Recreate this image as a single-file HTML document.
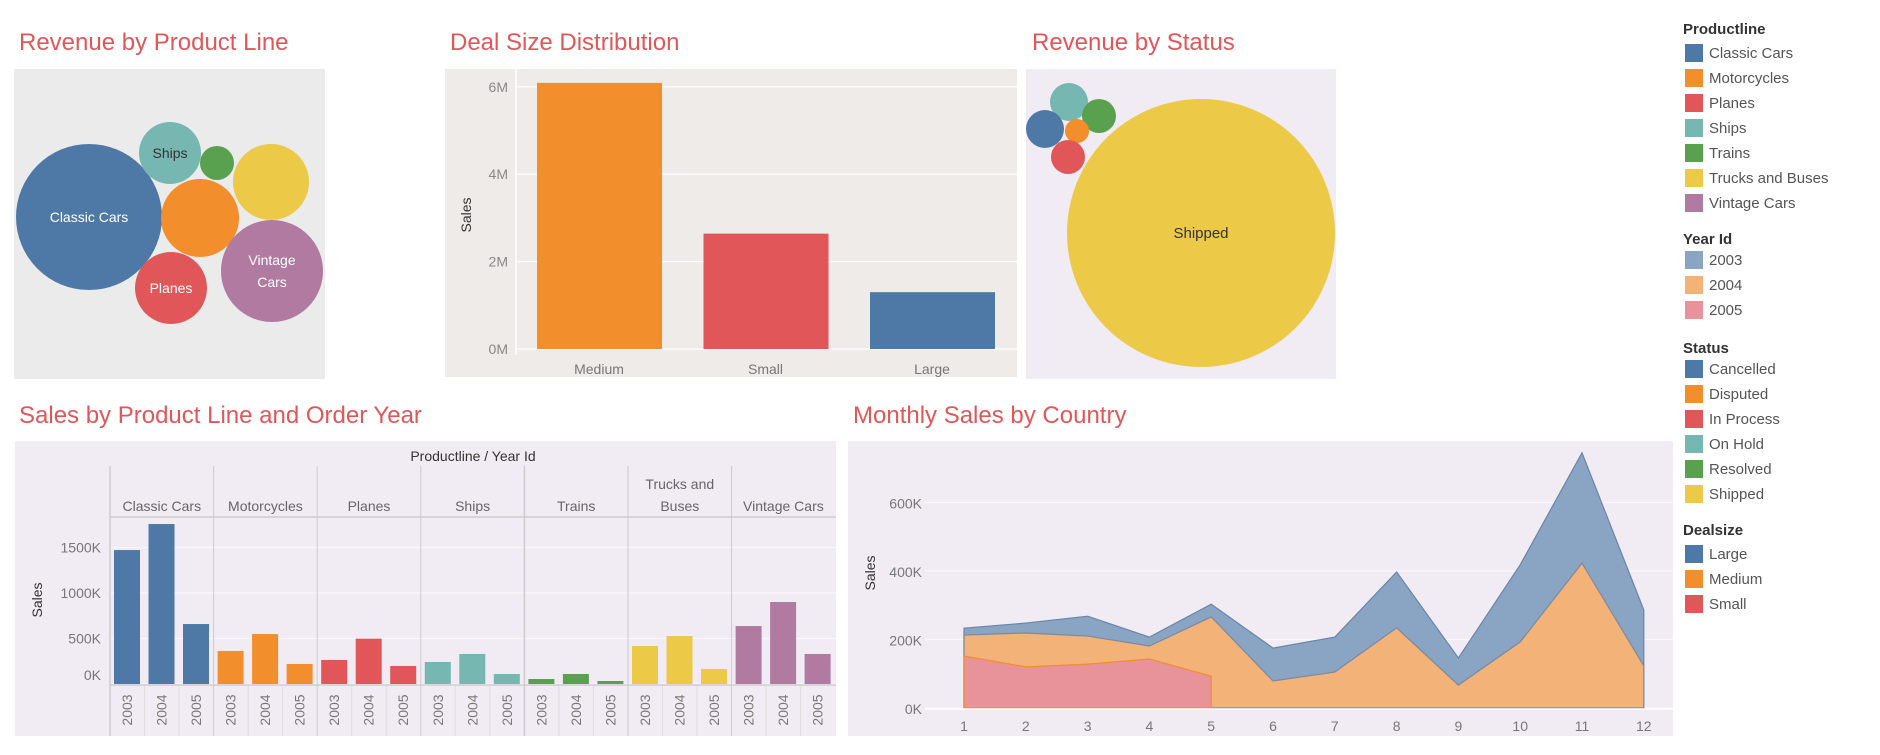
<!DOCTYPE html>
<html><head><meta charset="utf-8"><style>
body{margin:0;background:#fff;width:1880px;height:750px;overflow:hidden;font-family:"Liberation Sans",sans-serif}
svg text{font-family:"Liberation Sans",sans-serif}
</style></head><body>
<svg id="s" width="1880" height="750" viewBox="0 0 1880 750">
<g fill="#e15759" font-size="24">
<text x="19" y="50">Revenue by Product Line</text>
<text x="450" y="50">Deal Size Distribution</text>
<text x="1032" y="50">Revenue by Status</text>
<text x="19" y="423">Sales by Product Line and Order Year</text>
<text x="853" y="423">Monthly Sales by Country</text>
</g>
<rect x="14" y="69" width="311" height="310" fill="#ebebeb"/>
<rect x="445" y="69" width="572" height="308" fill="#efebe8"/>
<rect x="1026" y="69" width="310" height="310" fill="#f1ebf3"/>
<rect x="15" y="441" width="821" height="295" fill="#f1ebf3"/>
<rect x="848" y="441" width="825" height="295" fill="#f1ebf3"/>
<g id="g1"></g><g id="g2"></g><g id="g3"></g><g id="g4"></g><g id="g5"></g><g id="leg"></g>
</svg>
<script>
const NS='http://www.w3.org/2000/svg';
function mk(p,t,a,txt){const e=document.createElementNS(NS,t);for(const k in a)e.setAttribute(k,a[k]);if(txt!==undefined)e.textContent=txt;p.appendChild(e);return e;}
const C={blue:'#4e79a7',orange:'#f28e2b',red:'#e15759',teal:'#76b7b2',green:'#59a14f',yellow:'#edc948',purple:'#b07aa1'};

// Product bubbles
const pbNames=['Classic Cars','Ships','Trains','Trucks and Buses','Motorcycles','Vintage Cars','Planes'];
const pbLabels=[['Classic Cars'],['Ships'],[],[],[],['Vintage','Cars'],['Planes']];
const pbColors=[C.blue,C.teal,C.green,C.yellow,C.orange,C.purple,C.red];
const pbLayout=[[89,217,73],[170,153,31],[217,163,17],[271,182,38],[200,218,39],[272,271,51],[171,288,36]];
const g1=document.getElementById('g1');
pbNames.forEach((n,i)=>{const [x,y,r]=pbLayout[i];
 const c=mk(g1,'circle',{cx:x,cy:y,r:r,fill:pbColors[i]});
 
 
 const L=pbLabels[i];L.forEach((s,j)=>{const t=mk(g1,'text',{x:x,y:y+5+(j-(L.length-1)/2)*22,'text-anchor':'middle','font-size':14,fill:i==1?'#333':'#fff'},s);
 });
});

// Deal size
const dsCats=['Medium','Small','Large'];
const dsVals=[6.09,2.64,1.30];
const dsColors=[C.orange,C.red,C.blue];
const dsTicks=[0,2,4,6];
const g2=document.getElementById('g2');
const dy=v=>349-v*43.7;
dsTicks.forEach(t=>{const l=mk(g2,'line',{x1:516,x2:1017,y1:dy(t),y2:dy(t),stroke:'#fff','stroke-width':1.2});
 
 const tx=mk(g2,'text',{x:508,y:dy(t)+5,'text-anchor':'end','font-size':14,fill:'#888'},t+'M');
 });
mk(g2,'line',{x1:516,x2:516,y1:69,y2:355,stroke:'#fff','stroke-width':1.5});
dsCats.forEach((c,i)=>{const x0=537+i*166.5;
 const r=mk(g2,'rect',{x:x0,y:dy(dsVals[i]),width:125,height:dsVals[i]*43.7,fill:dsColors[i]});
 
 const t=mk(g2,'text',{x:x0+62,y:374,'text-anchor':'middle','font-size':14,fill:'#777'},c);
 });
const st=mk(g2,'text',{x:471,y:215,'text-anchor':'middle','font-size':14,fill:'#333',transform:'rotate(-90 471 215)'},'Sales');


// Status bubbles
const sbNames=['Shipped','On Hold','Resolved','Cancelled','Disputed','In Process'];
const sbColors=[C.yellow,C.teal,C.green,C.blue,C.orange,C.red];
const sbLayout=[[1201,233,134],[1069,102,19],[1099,116,17],[1045,129,19],[1077,131,12],[1068,157,17]];
const g3=document.getElementById('g3');
sbNames.forEach((n,i)=>{const [x,y,r]=sbLayout[i];
 const c=mk(g3,'circle',{cx:x,cy:y,r:r,fill:sbColors[i]});
 });
const shl=mk(g3,'text',{x:1201,y:238,'text-anchor':'middle','font-size':15,fill:'#333'},'Shipped');


// Product line / year
const plCats=['Classic Cars','Motorcycles','Planes','Ships','Trains','Trucks and Buses','Vintage Cars'];
const plYears=['2003','2004','2005'];
const plVals=[[1472,1758,659],[363,549,220],[264,498,198],[242,330,110],[55,110,33],[418,527,165],[637,901,330]];
const plColors=[C.blue,C.orange,C.red,C.teal,C.green,C.yellow,C.purple];
const plTicks=[0,500,1000,1500];
const g4=document.getElementById('g4');
const py=v=>684-v*0.091;const cw=103.6,cx0=110;
plTicks.forEach(t=>{const l=mk(g4,'line',{x1:cx0,x2:836,y1:py(t),y2:py(t),stroke:'#faf7fb','stroke-width':1.2});
 
 const tx=mk(g4,'text',{x:101,y:py(t)+(t==0?-4:5),'text-anchor':'end','font-size':14,fill:'#777'},t+'K');
 });
const ht=mk(g4,'text',{x:473,y:461,'text-anchor':'middle','font-size':14,fill:'#333'},'Productline / Year Id');

mk(g4,'line',{x1:cx0,x2:836,y1:517,y2:517,stroke:'#ccc','stroke-width':1.5});
mk(g4,'line',{x1:cx0,x2:836,y1:685,y2:685,stroke:'#ccc','stroke-width':1.5});
plCats.forEach((c,i)=>{const x=cx0+i*cw;
 mk(g4,'line',{x1:x,x2:x,y1:466,y2:736,stroke:'#ccc','stroke-width':i==0||i==4?1.5:1});
 const lines=c=='Trucks and Buses'?['Trucks and','Buses']:[c];
 lines.forEach((s,j)=>{const t=mk(g4,'text',{x:x+cw/2,y:511-(lines.length-1-j)*22,'text-anchor':'middle','font-size':14,fill:'#666'},s);
 });
 plYears.forEach((yr,k)=>{const v=plVals[i][k];const bx=x+4+k*34.5;
  const r=mk(g4,'rect',{x:bx,y:py(v),width:26,height:v*0.091,fill:plColors[i]});
  
  const tx=bx+13+5,ty=710;
  const t=mk(g4,'text',{x:tx,y:ty,'text-anchor':'middle','font-size':14,fill:'#777',transform:'rotate(-90 '+tx+' '+ty+')'},yr);
  
  if(k>0)mk(g4,'line',{x1:x+k*34.5,x2:x+k*34.5,y1:686,y2:736,stroke:'#ddd'});
 });});
const st4=mk(g4,'text',{x:42,y:600,'text-anchor':'middle','font-size':14,fill:'#333',transform:'rotate(-90 42 600)'},'Sales');


// Monthly
const months=[1,2,3,4,5,6,7,8,9,10,11,12];
const m2003=[233,248,268,207,303,175,207,397,146,418,745,286];
const m2004=[213,219,210,181,266,79,105,234,67,193,423,123];
const m2005=[152,120,128,143,93];
const mTicks=[0,200,400,600];
const g5=document.getElementById('g5');
const mx=m=>964+(m-1)*61.8, my=v=>708-v*0.3425;
mTicks.forEach(t=>{const l=mk(g5,'line',{x1:925,x2:1673,y1:my(t),y2:my(t),stroke:'#faf7fb','stroke-width':1.2});
 
 const tx=mk(g5,'text',{x:922,y:my(t)+6,'text-anchor':'end','font-size':14,fill:'#777'},t+'K');
 });
function area(vals,fill,stroke,name){let d='M'+mx(1)+','+my(0);vals.forEach((v,i)=>d+=' L'+mx(months[i])+','+my(v));d+=' L'+mx(months[vals.length-1])+','+my(0)+'Z';
 const p=mk(g5,'path',{d:d,fill:fill,stroke:stroke,'stroke-width':1.2});
 }
area(m2003,'#8aa4c4','#6a85a8','area-2003');
area(m2004,'#f3b277','#7a8aa0','area-2004');
area(m2005,'#e8929a','#f28e2b','area-2005');
mk(g5,'line',{x1:925,x2:1673,y1:709,y2:709,stroke:'#fff','stroke-width':1.5});
months.forEach(m=>{const t=mk(g5,'text',{x:mx(m),y:731,'text-anchor':'middle','font-size':14,fill:'#777'},String(m));
 });
const st5=mk(g5,'text',{x:875,y:573,'text-anchor':'middle','font-size':14,fill:'#333',transform:'rotate(-90 875 573)'},'Sales');


// Legend
const legGroups=[
 ['Productline',29,53,[['Classic Cars',C.blue],['Motorcycles',C.orange],['Planes',C.red],['Ships',C.teal],['Trains',C.green],['Trucks and Buses',C.yellow],['Vintage Cars',C.purple]]],
 ['Year Id',239,260,[['2003','#8aa4c4'],['2004','#f3b277'],['2005','#e8929a']]],
 ['Status',348,369,[['Cancelled',C.blue],['Disputed',C.orange],['In Process',C.red],['On Hold',C.teal],['Resolved',C.green],['Shipped',C.yellow]]],
 ['Dealsize',530,554,[['Large',C.blue],['Medium',C.orange],['Small',C.red]]]];
const lg=document.getElementById('leg');
legGroups.forEach(([t,ty,iy,items])=>{const h=mk(lg,'text',{x:1683,y:ty+5,'font-size':15,fill:'#333','font-weight':'bold'},t);
 
 items.forEach(([n,c],i)=>{const y=iy+i*25;
  const r=mk(lg,'rect',{x:1685,y:y-9,width:18,height:18,fill:c});
  
  const tx=mk(lg,'text',{x:1709,y:y+5,'font-size':15,fill:'#555'},n);
  });});
</script>
</body></html>
